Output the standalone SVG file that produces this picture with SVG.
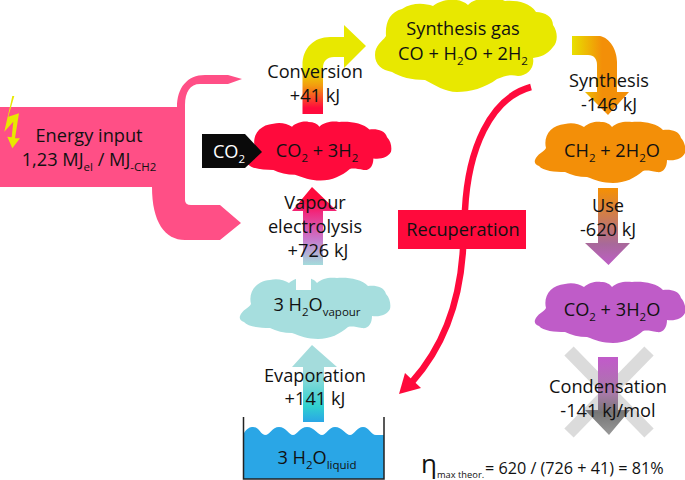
<svg xmlns="http://www.w3.org/2000/svg" width="685" height="480" viewBox="0 0 685 480">
<style>
text{font-family:"Open Sans","Liberation Sans",sans-serif;font-size:18.200px;fill:#111;text-anchor:middle}
.s{font-size:11.500px}
</style>
<defs>
<path id="cloud" d="M0,40 C2,34 9,32 11,28 C8,16 16,5 30,4 C37,2 44,4 49,7 C54,2 62,1 66,2 C71,2 75,4 77,7 C82,2 90,1 97,2 C107,1 122,3 128,10 C134,9 144,10 146,18 C150,22 151,29 150,33 C147,39 140,41 132,40 C132,48 128,53 122,52 C116,51 112,50 108,51 C100,58 90,63 78,63 C68,63 60,60 52,57 C44,57 36,55 30,52 C20,52 8,51 4,46 C1,45 -1,43 0,40 Z"/>
<linearGradient id="gConv" gradientUnits="userSpaceOnUse" x1="0" y1="68" x2="0" y2="108"><stop offset="0" stop-color="#e8e800"/><stop offset="0.45" stop-color="#f39a10"/><stop offset="1" stop-color="#ff0a3c"/></linearGradient>
<linearGradient id="gSyn" gradientUnits="userSpaceOnUse" x1="572" y1="0" x2="602" y2="0"><stop offset="0" stop-color="#e8e000"/><stop offset="1" stop-color="#f38f08"/></linearGradient>
<linearGradient id="gUse" gradientUnits="userSpaceOnUse" x1="0" y1="190" x2="0" y2="262"><stop offset="0" stop-color="#f38f08"/><stop offset="0.75" stop-color="#a8699a"/><stop offset="1" stop-color="#bb5fc0"/></linearGradient>
<linearGradient id="gCond" gradientUnits="userSpaceOnUse" x1="0" y1="360" x2="0" y2="435"><stop offset="0" stop-color="#c05cc8"/><stop offset="0.45" stop-color="#a87aa8"/><stop offset="0.7" stop-color="#777"/><stop offset="1" stop-color="#999"/></linearGradient>
<linearGradient id="gVap" gradientUnits="userSpaceOnUse" x1="0" y1="200" x2="0" y2="265"><stop offset="0" stop-color="#ff0a3c"/><stop offset="0.2" stop-color="#f02a80"/><stop offset="0.6" stop-color="#c878cc"/><stop offset="1" stop-color="#a4dcdc"/></linearGradient>
<linearGradient id="gEva" gradientUnits="userSpaceOnUse" x1="0" y1="370" x2="0" y2="422"><stop offset="0" stop-color="#a4dcdc"/><stop offset="0.7" stop-color="#30d0d0"/><stop offset="1" stop-color="#2aa6e6"/></linearGradient>
</defs>

<g id="connectors">
<path id="conversion-arrow" fill="url(#gConv)" d="M302.500,114 V65 C302.500,48 314,37 330,37 H344 V25 L366,46 L344,68 V57 H334 C327,57 323,61 323,68 V114 Z"/>
<path id="synthesis-arrow" fill="url(#gSyn)" d="M572,36 H600 C610,38 617,50 617,62 V92 H629 L608,115 L585,92 H597 V65 C597,59 594,55 588,55 H572 Z"/>
<path id="use-arrow" fill="url(#gUse)" d="M598,188 H618 V243 H630 L608.500,265 L585,243 H598 Z"/>
<path id="vapour-arrow" fill="url(#gVap)" d="M303,265 V211 H292 L312,187 L337,211 H323 V265 Z"/>
<path id="evaporation-arrow" fill="url(#gEva)" d="M303,422 V367 H292 L312,345 L337,367 H324 V422 Z"/>
<path id="recuperation-line" fill="none" stroke="#ff0a3c" stroke-width="6.500" d="M531,87 C490,98 468,150 465,210 L463,249 C460,300 445,345 412,382"/>
<path id="recuperation-head" fill="#ff0a3c" d="M399,394 L405,373 L421,388 Z"/>
</g>

<g id="energy-input">
<path fill="#ff4f86" d="M0,107 H177 C177,88 187,75 205,75 H228 L242,79 L228,84 H200 C190,84 185,92 185,105 V200 Q185,205 191,205 H220 L241,223 L220,240 H185 C165,240 152,222 152,187 H0 Z"/>
<path fill="#e8e800" d="M14.300,96 L8.300,116.700 L19,113.300 L15,138.300 L20,138.300 L12.300,148.300 L7.300,136.700 L11.700,137.300 L13.300,121.700 L4.300,131.700 L12.300,96 Z"/>
<text x="89" y="142">Energy input</text>
<text x="89" y="166">1,23 MJ<tspan class="s" dy="5">el</tspan><tspan dy="-5"> / MJ</tspan><tspan class="s" dy="5">-CH2</tspan></text>
</g>

<g id="co2-mix">
<use href="#cloud" fill="#ff0a3c" transform="translate(244,120) scale(0.98,0.96)"/>
<text x="317" y="157">CO<tspan class="s" dy="5">2</tspan><tspan dy="-5"> + 3H</tspan><tspan class="s" dy="5">2</tspan></text>
</g>
<g id="co2-input">
<path fill="#0a0a0a" d="M202,134 H245 L262,152 L245,168 H202 Z"/>
<text x="229" y="158" style="fill:#fff">CO<tspan class="s" dy="5">2</tspan></text>
</g>
<g id="synthesis-gas">
<path fill="#e8e800" d="M375,55 C375,45 382,42 386,36 C385,22 390,12 402,9 C412,2 425,3 433,6 C440,0 458,-4 468,5 C475,-3 495,-4 505,1 C515,0 530,2 536,12 C545,12 553,17 553,25 C558,32 558,42 553,47 C547,55 540,57 533,58 C535,68 527,76 518,76 C510,74 505,76 497,79 C485,88 470,92 457,92 C445,92 435,85 425,80 C412,80 400,77 392,72 C382,70 375,65 375,55 Z"/>
<text x="463" y="35">Synthesis gas</text>
<text x="463" y="60">CO + H<tspan class="s" dy="5">2</tspan><tspan dy="-5">O + 2H</tspan><tspan class="s" dy="5">2</tspan></text>
</g>
<g id="ch2">
<use href="#cloud" fill="#f38f08" transform="translate(535,120)"/>
<text x="612" y="157">CH<tspan class="s" dy="5">2</tspan><tspan dy="-5"> + 2H</tspan><tspan class="s" dy="5">2</tspan><tspan dy="-5">O</tspan></text>
</g>
<g id="co2-water">
<use href="#cloud" fill="#bf5cc8" transform="translate(535,280)"/>
<text x="612" y="316">CO<tspan class="s" dy="5">2</tspan><tspan dy="-5"> + 3H</tspan><tspan class="s" dy="5">2</tspan><tspan dy="-5">O</tspan></text>
</g>
<g id="vapour">
<use href="#cloud" fill="#a6dede" transform="translate(240,276)"/>
<rect x="296" y="277" width="15" height="13" fill="#fff"/>
<text x="317" y="311">3 H<tspan class="s" dy="5">2</tspan><tspan dy="-5">O</tspan><tspan class="s" dy="5">vapour</tspan></text>
</g>
<g id="liquid">
<path fill="#2aa6e6" d="M244,433 C247,428 250,427 253,427 C259,427 261,435 265,435 C270,435 272,427 279,427 C286,427 289,435 293,435 C297,435 300,427 307,427 C314,427 318,435 322,435 C326,435 329,427 335,427 C342,427 346,435 350,435 C354,435 357,427 363,427 C369,427 371,435 376,435 H384 V479 H244 Z"/>
<path fill="none" stroke="#222" stroke-width="1.500" d="M243.500,417 V479 H384 V417"/>
<text x="317" y="464">3 H<tspan class="s" dy="5">2</tspan><tspan dy="-5">O</tspan><tspan class="s" dy="5">liquid</tspan></text>
</g>
<g id="recuperation">
<rect x="398" y="210" width="128" height="39" fill="#ff0a3c"/>
<text x="463" y="236">Recuperation</text>
</g>
<g id="condensation">
<path d="M569,351 L649,433 M649,351 L569,433" stroke="#ccc" stroke-opacity="0.7" stroke-width="13" fill="none"/>
<path fill="url(#gCond)" d="M598,357 H618 V410 H630 L609,435 L585,410 H598 Z"/>
<text x="608" y="393">Condensation</text>
<text x="608" y="417">-141 kJ/mol</text>
</g>
<g id="labels">
<text x="315" y="78">Conversion</text>
<text x="315" y="102">+41 kJ</text>
<text x="609" y="87">Synthesis</text>
<text x="609" y="111">-146 kJ</text>
<text x="608" y="212">Use</text>
<text x="608" y="236">-620 kJ</text>
<text x="315" y="209">Vapour</text>
<text x="315" y="233">electrolysis</text>
<text x="318" y="257">+726 kJ</text>
<text x="315" y="382">Evaporation</text>
<text x="315" y="405">+141 kJ</text>
<text x="421" y="473" style="text-anchor:start;font-size:26px">η</text>
<text x="437" y="478" style="text-anchor:start;font-size:9.300px">max theor.</text>
<text x="485" y="474" style="text-anchor:start;font-size:16.200px">= 620 / (726 + 41) = 81%</text>
</g>
</svg>
